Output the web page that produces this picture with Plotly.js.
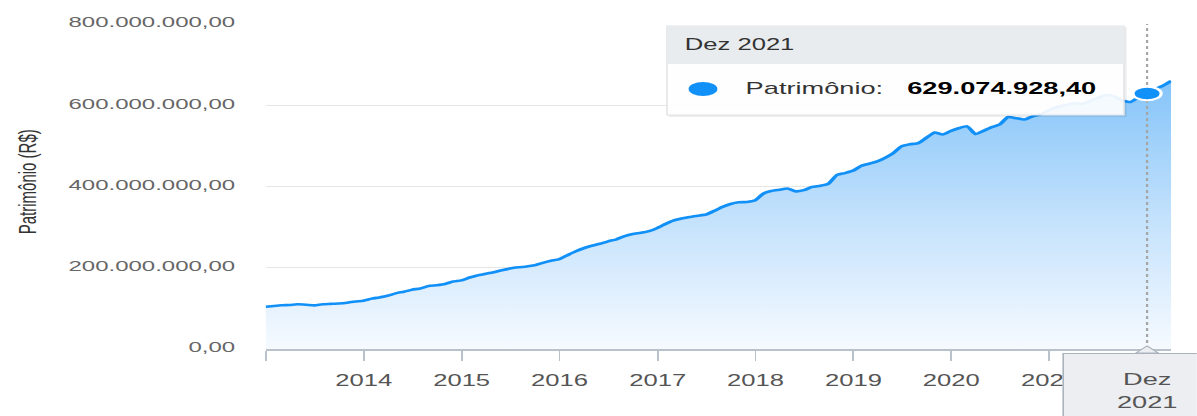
<!DOCTYPE html>
<html>
<head>
<meta charset="utf-8">
<script src="https://cdn.plot.ly/plotly-3.0.1.min.js"></script>
<style>
    html, body { margin: 0; padding: 0; background: #fff; overflow: hidden; }
    /* the source screenshot is stretched sideways, so the chart is drawn narrow and widened */
    #chart { width: 748px; height: 416px; transform: scaleX(1.6); transform-origin: 0 0; }
</style>
</head>
<body>
<div id="chart"></div>
<script>
// Patrimônio do fundo, fim de cada mês, dez/2012 .. mar/2022 (milhões de R$)
var firstMonth = [2012, 11]; // year, month index (0 = jan)
var patrimonioMi = [
    104, 106, 107.5, 108.5, 110, 109, 107.5, 110, 111, 112, 114, 117,
    119, 124, 127, 131, 137, 141, 146, 149, 155, 157, 160, 166,
    169, 176, 181, 185, 189, 194, 198, 201, 203, 206, 212, 217,
    221, 231, 240, 248, 254, 259, 265, 270, 278, 283, 286, 290,
    298, 308, 316, 321, 325, 328, 331, 340, 350, 357, 361, 362,
    366, 383, 389, 392, 395, 388, 391, 399, 402, 407, 428, 433,
    439, 451, 456, 462, 471, 483, 499, 504, 507, 520, 533, 528,
    537, 544, 548, 529, 537, 546, 553, 571, 568, 565, 573, 578,
    588, 596, 600, 605, 603, 610, 618, 625, 622, 612, 608, 620,
    629.0749284, 640, 648, 660,
];
var yearTicks = ["2013-01-01", "2014-01-01", "2015-01-01", "2016-01-01", "2017-01-01",
    "2018-01-01", "2019-01-01", "2020-01-01", "2021-01-01"];
var yearLabels = ["", "2014", "2015", "2016", "2017", "2018", "2019", "2020", "2021"];
var monthNames = ["Jan", "Fev", "Mar", "Abr", "Mai", "Jun", "Jul", "Ago", "Set", "Out", "Nov", "Dez"];
var hoverIdx = 108; // Dez 2021

var lineColor = "#1190f7";
var font = "Liberation Sans, Arial, sans-serif";

// layout sizes, in the narrow (unstretched) frame
var W = 748, H = 416, STRETCH = 1.6;
var M = { l: 166, r: 16, t: 24, b: 67 };
var plotW = W - M.l - M.r;
var plotH = H - M.t - M.b;

// screen pixel (as seen in the picture) -> paper coords
function px(x) { return (x / STRETCH - M.l) / plotW; }
function py(y) { return (H - M.b - y) / plotH; }

function monthEnd(i) {
    var d = new Date(Date.UTC(firstMonth[0], firstMonth[1] + i + 1, 0));
    return d.toISOString().slice(0, 10);
}

var dates = patrimonioMi.map((v, i) => monthEnd(i));
var values = patrimonioMi.map(v => v * 1e6);

var hoverDate = dates[hoverIdx];
var hoverVal = values[hoverIdx];
var hd = new Date(hoverDate);
var hoverLabel = monthNames[hd.getUTCMonth()] + " " + hd.getUTCFullYear();
var brl = new Intl.NumberFormat("pt-BR", { minimumFractionDigits: 2, maximumFractionDigits: 2 });

var trace = {
    type: "scatter",
    mode: "lines",
    x: dates,
    y: values,
    line: { color: lineColor, width: 2.6, shape: "spline", smoothing: 0.5 },
    fill: "tozeroy",
    fillgradient: {
        type: "vertical",
        start: 0,
        stop: 660e6,
        colorscale: [[0, "#f6faff"], [0.5, "#c2e1fc"], [1, "#84c4f9"]],
    },
    hoverinfo: "skip",
};

var tipX0 = px(667), tipX1 = px(1124);

var layout = {
    width: W,
    height: H,
    margin: M,
    paper_bgcolor: "#fff",
    plot_bgcolor: "#fff",
    showlegend: false,
    separators: ",.",
    font: { family: font, color: "#555" },
    xaxis: {
        type: "date",
        range: [dates[0], dates[dates.length - 1]],
        tickvals: yearTicks,
        ticktext: yearLabels,
        showgrid: false,
        showline: true,
        linecolor: "#b9c2cb",
        linewidth: 1.5,
        ticks: "outside",
        ticklen: 10,
        tickwidth: 1.2,
        tickcolor: "#b9c2cb",
        ticklabelstandoff: 6,
        tickfont: { family: font, size: 16, color: "#555" },
        zeroline: false,
    },
    yaxis: {
        range: [0, 800e6],
        dtick: 200e6,
        tickformat: ",.2f",
        ticks: "",
        ticklabelstandoff: 18,
        ticklabelshift: -2,
        tickfont: { family: font, size: 15, color: "#666" },
        gridcolor: "#e6e6e6",
        gridwidth: 1,
        zeroline: false,
        showline: false,
    },
    shapes: [
        // crosshair
        {
            type: "line", xref: "x", yref: "paper",
            x0: hoverDate, x1: hoverDate, y0: 0, y1: 1,
            line: { color: "#a6a6a6", width: 1.4, dash: "dot" },
        },
        // hovered point
        {
            type: "circle", xref: "x", yref: "y",
            xsizemode: "pixel", ysizemode: "pixel",
            xanchor: hoverDate, yanchor: hoverVal,
            x0: -8.8, x1: 8.8, y0: -6.8, y1: 6.8,
            fillcolor: lineColor,
            line: { color: "#fff", width: 2 },
        },
        // tooltip shadow, body, header
        {
            type: "rect", xref: "paper", yref: "paper",
            x0: tipX0 + 0.002, x1: tipX1 + 0.003, y0: py(117), y1: py(27),
            fillcolor: "rgba(0,0,0,0.07)", line: { width: 0 },
        },
        {
            type: "rect", xref: "paper", yref: "paper",
            x0: tipX0, x1: tipX1, y0: py(115), y1: py(26),
            fillcolor: "rgba(255,255,255,0.92)",
            line: { color: "#e2e4e7", width: 1 },
        },
        {
            type: "rect", xref: "paper", yref: "paper",
            x0: tipX0, x1: tipX1, y0: py(64), y1: py(26),
            fillcolor: "#e9ecef",
            line: { width: 0 },
        },
        {
            type: "circle", xref: "paper", yref: "paper",
            xsizemode: "pixel", ysizemode: "pixel",
            xanchor: px(703), yanchor: py(89),
            x0: -9, x1: 9, y0: -7, y1: 7,
            fillcolor: lineColor, line: { width: 0 },
        },
        // notch of the x hover label
        {
            type: "path", xref: "x", yref: "paper",
            xsizemode: "pixel", ysizemode: "pixel",
            xanchor: hoverDate, yanchor: 0,
            path: "M-7,-4 L0,3 L7,-4 Z",
            fillcolor: "#eceef1",
            line: { color: "#aab3bc", width: 1 },
        },
    ],
    annotations: [
        {
            text: "Patrimônio (R$)",
            xref: "paper", yref: "paper",
            x: px(26), y: py(182),
            xanchor: "center", yanchor: "middle",
            textangle: -90,
            showarrow: false,
            font: { family: font, size: 15, color: "#333" },
        },
        {
            text: hoverLabel,
            xref: "paper", yref: "paper",
            x: px(681), y: py(44),
            xanchor: "left", yanchor: "middle",
            showarrow: false,
            font: { family: font, size: 16, color: "#333" },
        },
        {
            text: "Patrimônio:",
            xref: "paper", yref: "paper",
            x: px(743), y: py(89),
            xanchor: "left", yanchor: "middle",
            showarrow: false,
            font: { family: font, size: 17, color: "#333" },
        },
        {
            text: "<b>" + brl.format(hoverVal) + "</b>",
            xref: "paper", yref: "paper",
            x: px(904), y: py(89),
            xanchor: "left", yanchor: "middle",
            showarrow: false,
            font: { family: font, size: 17, color: "#000" },
        },
        {
            text: monthNames[hd.getUTCMonth()] + "<br>" + hd.getUTCFullYear(),
            xref: "x", yref: "paper",
            x: hoverDate, y: 0,
            xanchor: "center", yanchor: "top",
            yshift: -4,
            width: 100, height: 70,
            borderpad: 2,
            showarrow: false,
            bgcolor: "#eceef1",
            bordercolor: "#aab3bc",
            borderwidth: 1,
            font: { family: font, size: 17, color: "#555" },
        },
    ],
};

Plotly.newPlot("chart", [trace], layout, { displayModeBar: false, staticPlot: true });
</script>
</body>
</html>
